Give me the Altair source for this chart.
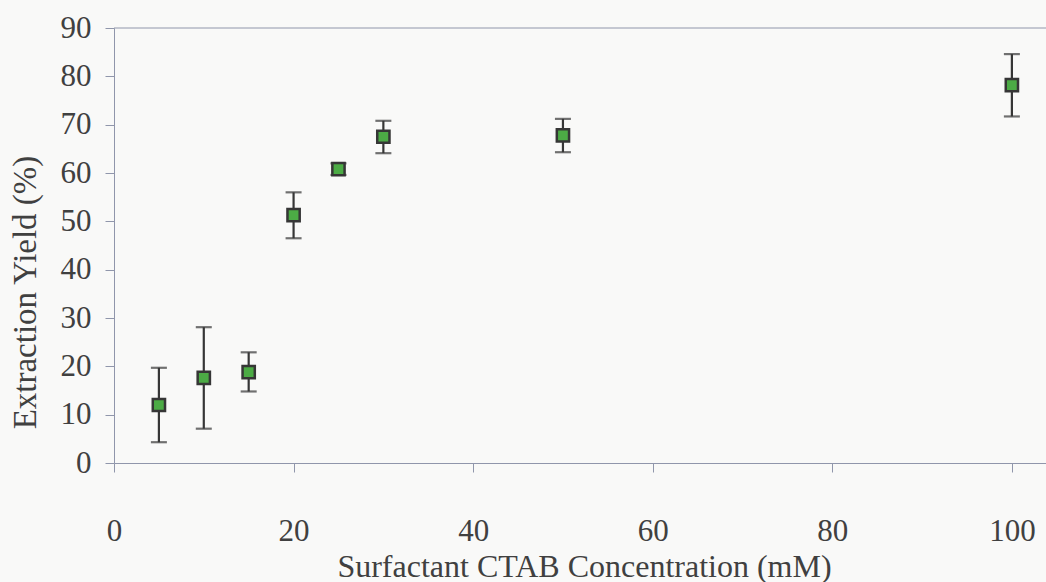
import altair as alt
import pandas as pd

conc = [5, 10, 15, 20, 25, 30, 50, 100]
yield_mean = [12.0, 17.6, 18.8, 51.3, 60.8, 67.5, 67.8, 78.2]
err_low = [4.3, 7.1, 14.8, 46.5, 59.6, 64.1, 64.3, 71.7]
err_high = [19.7, 28.1, 22.9, 56.0, 62.0, 70.8, 71.2, 84.6]
x_ticks = [0, 20, 40, 60, 80, 100]
y_ticks = [0, 10, 20, 30, 40, 50, 60, 70, 80, 90]

df = pd.DataFrame({"conc": conc, "y": yield_mean, "lo": err_low, "hi": err_high})

FONT = "Liberation Serif"
AXIS_COLOR = "#9096ab"
TEXT_COLOR = "#404040"
MARK_DARK = "#363636"
FS = 31

xscale = alt.Scale(domain=[0, 103.8], nice=False, zero=False)
yscale = alt.Scale(domain=[0, 90], nice=False)

x_axis = alt.Axis(
    values=x_ticks, title="Surfactant CTAB Concentration (mM)", grid=False,
    domainColor=AXIS_COLOR, tickColor=AXIS_COLOR, tickSize=9,
    labelFont=FONT, labelFontSize=FS, labelColor=TEXT_COLOR, labelPadding=44,
    titleFont=FONT, titleFontSize=32, titleFontWeight="normal", titleColor=TEXT_COLOR,
    titlePadding=5, titleX=470, labelFlush=False,
)
y_axis = alt.Axis(
    values=y_ticks, title="Extraction Yield (%)", grid=False,
    domainColor=AXIS_COLOR, tickColor=AXIS_COLOR, tickSize=9,
    labelFont=FONT, labelFontSize=FS, labelColor=TEXT_COLOR, labelPadding=14,
    titleFont=FONT, titleFontSize=33, titleFontWeight="normal", titleColor=TEXT_COLOR,
    titleX=-72, titleY=264,
)

base = alt.Chart(df)

top_line = alt.Chart(pd.DataFrame({"v": [90]})).mark_rule(color=AXIS_COLOR, strokeWidth=1).encode(
    y=alt.Y("v:Q", scale=yscale, axis=y_axis)
)

bars = base.mark_errorbar(ticks=alt.MarkConfig(size=16), color=MARK_DARK, thickness=2.2).encode(
    x=alt.X("conc:Q", scale=xscale, axis=x_axis),
    y=alt.Y("lo:Q", scale=yscale, axis=y_axis),
    y2="hi:Q",
)

points = base.mark_square(size=150, fill="#4cab45", stroke=MARK_DARK, strokeWidth=2.5, opacity=1).encode(
    x=alt.X("conc:Q", scale=xscale, axis=x_axis),
    y=alt.Y("y:Q", scale=yscale, axis=y_axis),
)

chart = alt.layer(top_line, bars, points).properties(
    width=932,
    height=435,
    padding={"left": 114, "top": 28, "right": 0, "bottom": 119},
    autosize=alt.AutoSizeParams(type="none"),
    background="#f9f9f8",
).configure_view(stroke=None)

chart.save("out.html", embed_options={"renderer": "svg", "actions": False})
